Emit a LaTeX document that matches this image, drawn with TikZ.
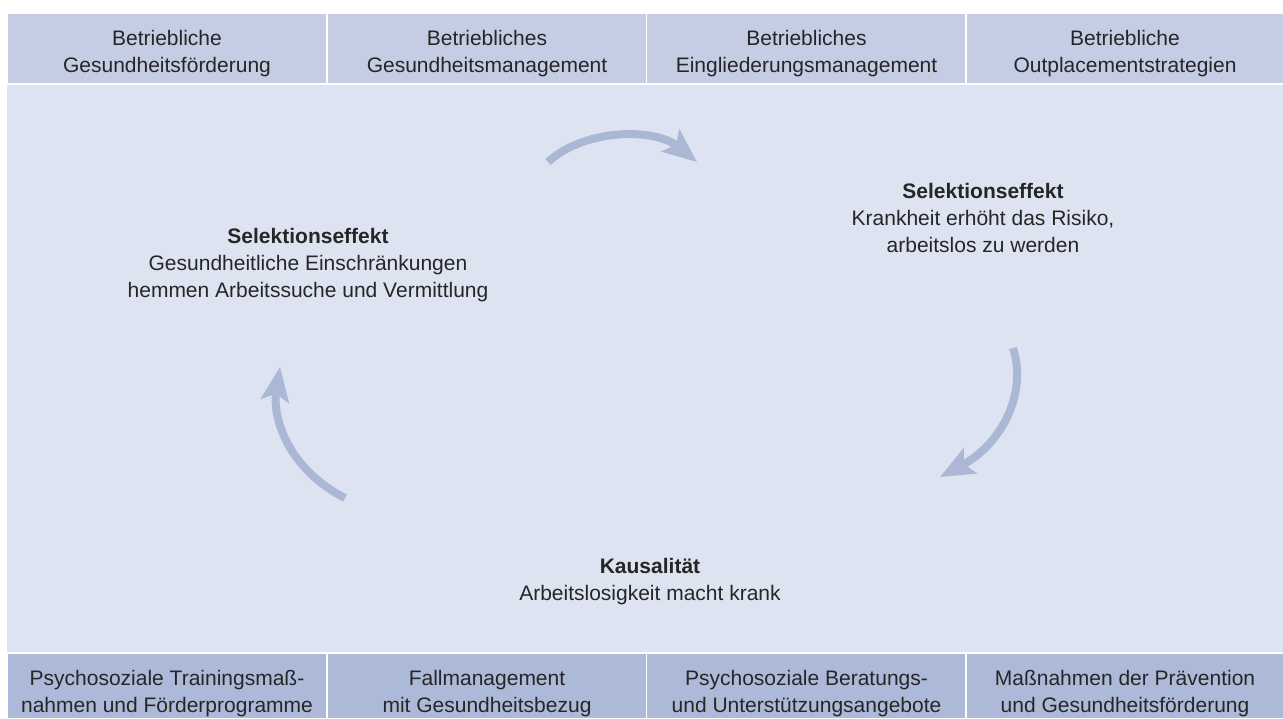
\documentclass[tikz,border=0pt]{standalone}
\usepackage{fontspec}
\setmainfont{Liberation Sans}
\usetikzlibrary{arrows.meta}
\definecolor{headbg}{RGB}{196,205,227}
\definecolor{mainbg}{RGB}{221,227,240}
\definecolor{footbg}{RGB}{173,185,216}
\definecolor{arrowc}{RGB}{170,184,214}
\definecolor{txtc}{RGB}{38,38,38}
\begin{document}
\begin{tikzpicture}[x=1pt,y=-1pt,
  cellbox/.style={draw=white, line width=1.5pt, minimum width=320pt, inner sep=0pt},
  headcell/.style={cellbox, fill=headbg, minimum height=71pt},
  footcell/.style={cellbox, fill=footbg, minimum height=66pt},
  txtnode/.style={anchor=base, inner sep=0pt, text=txtc, font=\fontsize{21pt}{27pt}\selectfont},
  bigarrow/.style={draw=arrowc, line width=8pt, -{Stealth[length=34pt,width=28pt,inset=7pt]}}
]
\useasboundingbox (0,0) rectangle (1283,718);
\fill[white] (0,0) rectangle (1283,718);
\fill[mainbg] (7,84) rectangle (1283,653);

% header cells
\node[headcell] (h1) at (167,48.5) {};
\node[headcell] (h2) at (487,48.5) {};
\node[headcell] (h3) at (806.5,48.5) {};
\node[headcell] (h4) at (1126,48.5) {};
\node[txtnode] (h1t) at (167,45) {\parbox[t]{310pt}{\centering Betriebliche\\Gesundheitsförderung}};
\node[txtnode] (h2t) at (487,45) {\parbox[t]{310pt}{\centering Betriebliches\\Gesundheitsmanagement}};
\node[txtnode] (h3t) at (806.5,45) {\parbox[t]{310pt}{\centering Betriebliches\\Eingliederungsmanagement}};
\node[txtnode] (h4t) at (1125,45) {\parbox[t]{310pt}{\centering Betriebliche\\Outplacementstrategien}};

% footer cells
\node[footcell] (f1) at (167,686) {};
\node[footcell] (f2) at (487,686) {};
\node[footcell] (f3) at (806.5,686) {};
\node[footcell] (f4) at (1126,686) {};
\node[txtnode] (f1t) at (167,685) {\parbox[t]{310pt}{\centering Psychosoziale Trainingsmaß-\\nahmen und Förderprogramme}};
\node[txtnode] (f2t) at (487,685) {\parbox[t]{310pt}{\centering Fallmanagement\\mit Gesundheitsbezug}};
\node[txtnode] (f3t) at (806.5,685) {\parbox[t]{310pt}{\centering Psychosoziale Beratungs-\\und Unterstützungsangebote}};
\node[txtnode] (f4t) at (1125,685) {\parbox[t]{310pt}{\centering Maßnahmen der Prävention\\und Gesundheitsförderung}};

% cycle labels
\node[txtnode] (left) at (308,243) {\parbox[t]{420pt}{\centering\textbf{Selektionseffekt}\\Gesundheitliche Einschränkungen\\hemmen Arbeitssuche und Vermittlung}};
\node[txtnode] (right) at (983,198) {\parbox[t]{420pt}{\centering\textbf{Selektionseffekt}\\Krankheit erhöht das Risiko,\\arbeitslos zu werden}};
\node[txtnode] (bottom) at (650,573) {\parbox[t]{420pt}{\centering\textbf{Kausalität}\\Arbeitslosigkeit macht krank}};

% arrows
\coordinate (a1s) at (548,162);
\coordinate (a1e) at (697,162);
\coordinate (a2s) at (1013,348);
\coordinate (a2e) at (940,477);
\coordinate (a3s) at (345,498);
\coordinate (a3e) at (280,367);
\draw[bigarrow] (a1s) .. controls (585,128) and (655,128) .. (a1e);
\draw[bigarrow] (a2s) .. controls (1028,395) and (1000,445) .. (a2e);
\draw[bigarrow] (a3s) .. controls (290,470) and (272,420) .. (a3e);
\end{tikzpicture}
\end{document}
